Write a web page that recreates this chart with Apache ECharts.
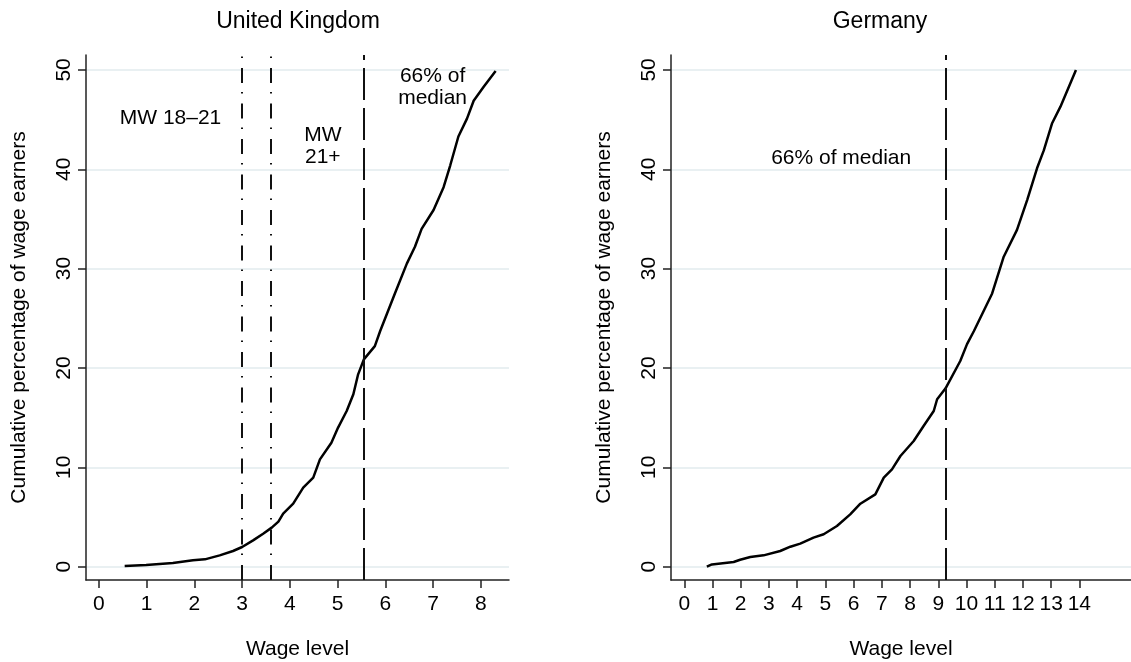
<!DOCTYPE html>
<html>
<head>
<meta charset="utf-8">
<script src="https://cdn.jsdelivr.net/npm/echarts@6/dist/echarts.min.js"></script>
<style>
html,body{margin:0;padding:0;background:#fff;}
#chart{width:1131px;height:662px;}
</style>
</head>
<body>
<div id="chart"></div>
<script>
// ---- Data ----
var ukWage = [0.54, 0.99, 1.55, 1.97, 2.22, 2.53, 2.81, 3.0, 3.23, 3.44, 3.62, 3.76, 3.86, 4.07, 4.28, 4.49, 4.63, 4.87, 5.01, 5.19, 5.33, 5.43, 5.55, 5.78, 5.89, 6.20, 6.45, 6.62, 6.76, 7.01, 7.22, 7.36, 7.53, 7.71, 7.85, 8.06, 8.31];
var ukCum  = [0.07, 0.17, 0.37, 0.64, 0.74, 1.14, 1.58, 1.98, 2.65, 3.32, 3.93, 4.53, 5.34, 6.34, 7.95, 8.96, 10.8, 12.48, 14.0, 15.67, 17.35, 19.36, 20.87, 22.2, 23.7, 27.5, 30.5, 32.2, 34.0, 35.9, 38.2, 40.4, 43.3, 45.1, 46.9, 48.3, 49.9];

var deWage = [0.80, 0.98, 1.75, 1.98, 2.34, 2.81, 3.40, 3.76, 4.11, 4.58, 4.94, 5.41, 5.88, 6.24, 6.77, 7.07, 7.36, 7.66, 8.13, 8.48, 8.84, 8.96, 9.26, 9.78, 10.02, 10.26, 10.91, 11.32, 11.79, 12.15, 12.50, 12.74, 13.03, 13.33, 13.88];
var deCum  = [0.0, 0.23, 0.47, 0.70, 0.97, 1.14, 1.58, 2.01, 2.32, 2.92, 3.26, 4.09, 5.27, 6.34, 7.28, 8.96, 9.8, 11.14, 12.65, 14.16, 15.67, 16.85, 17.95, 20.7, 22.4, 23.7, 27.5, 31.2, 33.9, 36.9, 40.1, 41.9, 44.6, 46.3, 50.0];

var ukXTicks = [0, 1, 2, 3, 4, 5, 6, 7, 8];
var deXTicks = [0, 1, 2, 3, 4, 5, 6, 7, 8, 9, 10, 11, 12, 13, 14];
var yTicks = [0, 10, 20, 30, 40, 50];

var ukMinWage1821 = 3.0;
var ukMinWage21 = 3.6;
var ukMedian66 = 5.55;
var deMedian66 = 9.26;

var ukNotes = [[1.5, 45.1, 'MW 18–21'], [4.69, 42.3, 'MW\n21+'], [6.99, 48.3, '66% of\nmedian']];
var deNotes = [[5.56, 41.1, '66% of median']];

var titles = ['United Kingdom', 'Germany'];
var xName = 'Wage level';
var yName = 'Cumulative percentage of wage earners';

// ---- Build ----
var FONT = '"Liberation Sans", Arial, Helvetica, sans-serif';
var TXT = '#000';
function zip(a, b) { return a.map(function (v, i) { return [v, b[i]]; }); }

function xAxisDef(idx, min, max, ticks) {
  return {
    type: 'value', gridIndex: idx, min: min, max: max,
    name: xName, nameLocation: 'middle', nameGap: 59,
    nameTextStyle: { fontFamily: FONT, fontSize: 21, color: TXT },
    axisLine: { show: true, onZero: false, lineStyle: { color: '#222', width: 1.5 } },
    axisTick: { show: true, length: 8, customValues: ticks, lineStyle: { color: '#222', width: 1.5 } },
    axisLabel: { show: true, customValues: ticks, margin: 14, fontFamily: FONT, fontSize: 21, color: TXT },
    splitLine: { show: false }
  };
}
function yAxisDef(idx) {
  return {
    type: 'value', gridIndex: idx, min: -1.34, max: 51.5,
    name: yName, nameLocation: 'middle', nameGap: 56,
    nameTextStyle: { fontFamily: FONT, fontSize: 21, color: TXT },
    axisLine: { show: true, onZero: false, lineStyle: { color: '#222', width: 1.5 } },
    axisTick: { show: true, length: 8, customValues: yTicks, lineStyle: { color: '#222', width: 1.5 } },
    axisLabel: { show: true, customValues: yTicks, rotate: 90, margin: 11, fontFamily: FONT, fontSize: 21, color: TXT },
    splitLine: { show: true, lineStyle: { color: '#e9f0f2', width: 2 } }
  };
}
var dashDot = { color: '#111', width: 2, type: [15, 10, 1.5, 9] };
var longDash = { color: '#111', width: 2, type: [32, 8] };

function curve(idx, data, marks) {
  return {
    type: 'line', xAxisIndex: idx, yAxisIndex: idx, data: data,
    showSymbol: false, symbol: 'none', silent: true,
    lineStyle: { color: '#000', width: 2.5 },
    markLine: {
      silent: true, symbol: ['none', 'none'], label: { show: false },
      data: marks
    },
    z: 3
  };
}
function notes(idx, data) {
  return {
    type: 'scatter', xAxisIndex: idx, yAxisIndex: idx, data: data,
    symbolSize: 0, silent: true,
    itemStyle: { opacity: 1, color: '#000' },
    label: {
      show: true, position: 'inside',
      formatter: function (p) { return p.data[2]; },
      fontFamily: FONT, fontSize: 21, color: '#000', lineHeight: 22, align: 'center',
      textBorderWidth: 0, opacity: 1
    }
  };
}

var chart = echarts.init(document.getElementById('chart'), null, { renderer: 'canvas' });
chart.setOption({
  backgroundColor: '#fff',
  animation: false,
  title: [
    { text: titles[0], left: 293, top: 5, textAlign: 'center', textStyle: { fontFamily: FONT, fontSize: 23, fontWeight: 'normal', color: TXT } },
    { text: titles[1], left: 875, top: 5, textAlign: 'center', textStyle: { fontFamily: FONT, fontSize: 23, fontWeight: 'normal', color: TXT } }
  ],
  grid: [
    { left: 86, top: 55, width: 423, height: 525, containLabel: false, outerBoundsMode: 'none' },
    { left: 671, top: 55, width: 460, height: 525, containLabel: false, outerBoundsMode: 'none' }
  ],
  xAxis: [xAxisDef(0, -0.27, 8.59, ukXTicks), xAxisDef(1, -0.47, 15.83, deXTicks)],
  yAxis: [yAxisDef(0), yAxisDef(1)],
  series: [
    curve(0, zip(ukWage, ukCum), [
      { xAxis: ukMinWage1821, lineStyle: dashDot },
      { xAxis: ukMinWage21, lineStyle: dashDot },
      { xAxis: ukMedian66, lineStyle: longDash }
    ]),
    curve(1, zip(deWage, deCum), [
      { xAxis: deMedian66, lineStyle: longDash }
    ]),
    notes(0, ukNotes),
    notes(1, deNotes)
  ]
});
</script>
</body>
</html>
